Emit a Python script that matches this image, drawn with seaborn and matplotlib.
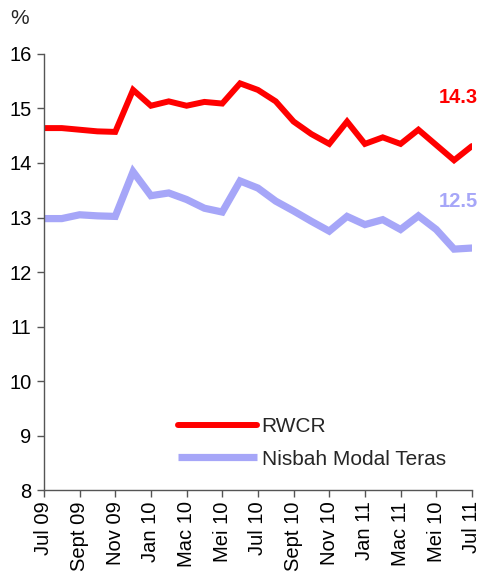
import numpy as np
import pandas as pd
import matplotlib
matplotlib.use("Agg")
import matplotlib.pyplot as plt
import seaborn as sns
from matplotlib.lines import Line2D

# monthly data, Jul 09 .. Jul 11
rwcr = [14.64, 14.64, 14.61, 14.58, 14.57, 15.34, 15.05, 15.13, 15.05, 15.12,
        15.09, 15.46, 15.34, 15.13, 14.76, 14.53, 14.35, 14.76, 14.35, 14.47,
        14.35, 14.61, 14.33, 14.05, 14.31]
modal_teras = [12.98, 12.98, 13.05, 13.03, 13.02, 13.84, 13.40, 13.45, 13.33, 13.17,
               13.10, 13.67, 13.54, 13.30, 13.12, 12.93, 12.75, 13.02, 12.87, 12.96,
               12.78, 13.03, 12.78, 12.42, 12.44]
tick_labels = ["Jul 09", "Sept 09", "Nov 09", "Jan 10", "Mac 10", "Mei 10", "Jul 10",
               "Sept 10", "Nov 10", "Jan 11", "Mac 11", "Mei 10", "Jul 11"]
series_names = ["RWCR", "Nisbah Modal Teras"]
end_labels = ["14.3", "12.5"]

red = "#FF0000"
blue = "#A6A6F8"

sns.set_style("white")
plt.rcParams['font.family'] = ['Liberation Sans', 'DejaVu Sans']

months = np.arange(len(rwcr))
df = pd.DataFrame({
    "month": np.concatenate([months, months]),
    "value": rwcr + modal_teras,
    "series": [series_names[0]] * len(rwcr) + [series_names[1]] * len(modal_teras),
})

fig = plt.figure(figsize=(4.88, 5.8), dpi=100)
ax = fig.add_axes([0.090, 0.155, 0.877, 0.752])

sns.lineplot(data=df, x="month", y="value", hue="series", hue_order=series_names,
             palette=[red, blue], ax=ax, legend=False)
for line, lw in zip(ax.lines, [4.3, 5.2]):
    line.set_linewidth(lw)
    line.set_solid_joinstyle("miter")

ax.set_xlim(0, len(rwcr) - 1)
ax.set_ylim(8, 16)
ax.set_yticks(range(8, 17))
ax.set_xticks(months[::2])
ax.set_xticklabels(tick_labels, rotation=90)
ax.set_xlabel("")
ax.set_ylabel("")

for s in ["top", "right"]:
    ax.spines[s].set_visible(False)
for s in ["left", "bottom"]:
    ax.spines[s].set_color("#555555")
    ax.spines[s].set_linewidth(1.0)
ax.tick_params(axis="both", which="both", length=5, width=1, color="#555555",
               labelsize=14.5, labelcolor="black", direction="out", left=True, bottom=True)
ax.tick_params(axis="x", pad=3)
ax.tick_params(axis="y", pad=4)

# end value annotations
ax.text(len(rwcr) - 0.66, 15.2, end_labels[0], color=red, fontsize=14.5, fontweight="bold",
        ha="right", va="center", clip_on=False)
ax.text(len(rwcr) - 0.66, 13.3, end_labels[1], color=blue, fontsize=14.5, fontweight="bold",
        ha="right", va="center", clip_on=False)

fig.text(0.022, 0.968, "%", fontsize=15, ha="left", va="center")

handles = [Line2D([0], [0], color=red, lw=4.3, solid_capstyle="round"),
           Line2D([0], [0], color=blue, lw=5.2, solid_capstyle="butt")]
ax.legend(handles, series_names, loc="lower left", bbox_to_anchor=(0.27, 0.006),
          frameon=False, fontsize=15, handlelength=3.8, handletextpad=0.2,
          labelspacing=0.65)

fig.savefig("out.png", dpi=100)
